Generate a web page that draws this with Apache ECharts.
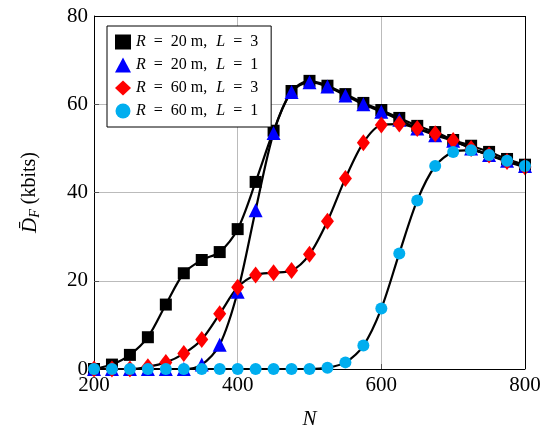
<!DOCTYPE html>
<html>
<head>
<meta charset="utf-8">
<script src="https://cdn.jsdelivr.net/npm/echarts@6/dist/echarts.min.js"></script>
<style>
  html, body { margin: 0; padding: 0; background: #fff; }
  #chart { width: 559px; height: 436px; }
</style>
</head>
<body>
<div id="chart"></div>
<script>
const nValues = [200, 225, 250, 275, 300, 325, 350, 375, 400, 425, 450, 475, 500,
  525, 550, 575, 600, 625, 650, 675, 700, 725, 750, 775, 800];

const r20l3 = [0, 1.0, 3.2, 7.2, 14.6, 21.7, 24.7, 26.5, 31.7, 42.4, 54, 63, 65.3,
  64.2, 62.3, 60.3, 58.7, 56.9, 55.1, 53.7, 51.9, 50.6, 49.2, 47.6, 46.3];
const r20l1 = [0, 0, 0, 0, 0, 0, 1.0, 5.5, 17.5, 36, 53.5, 62.8, 65,
  64, 62, 60, 58.3, 56.5, 54.5, 53, 51.7, 50, 48.5, 47.2, 46];
const r60l3 = [0, 0, 0, 0.5, 1.5, 3.5, 6.7, 12.5, 18.5, 21.3, 21.8, 22.3, 26,
  33.5, 43.2, 51.3, 55.3, 55.5, 54.5, 53.3, 51.8, 50, 48.5, 47, 45.8];
const r60l1 = [0, 0, 0, 0, 0, 0, 0, 0, 0, 0, 0, 0, 0,
  0.3, 1.5, 5.3, 13.7, 26.2, 38.2, 46, 49.2, 49.6, 48.5, 47.2, 46];

const legendNames = ['{i|R}{e|=}20 m,{e2| }{i|L}{e|=}3', '{i|R}{e|=}20 m,{e2| }{i|L}{e|=}1',
  '{i|R}{e|=}60 m,{e2| }{i|L}{e|=}3', '{i|R}{e|=}60 m,{e2| }{i|L}{e|=}1'];
const xTicks = [200, 400, 600, 800];
const yTicks = [0, 20, 40, 60, 80];

const serif = 'Liberation Serif';
const chart = echarts.init(document.getElementById('chart'));

const pair = (ys) => nValues.map((x, i) => [x, ys[i]]);

function makeSeries(name, ys, symbol, size, color) {
  return {
    name: name,
    type: 'line',
    data: pair(ys),
    smooth: 0.3,
    symbol: symbol,
    symbolSize: size,
    showAllSymbol: true,
    lineStyle: { color: '#000', width: 2.2 },
    itemStyle: { color: color, borderWidth: 0 },
    emphasis: { disabled: true },
    z: 2
  };
}

chart.setOption({
  animation: false,
  backgroundColor: '#fff',
  grid: { left: 94, right: 34, top: 16, bottom: 67 },
  legend: {
    orient: 'vertical',
    left: 107,
    top: 26,
    backgroundColor: '#fff',
    borderColor: '#000',
    borderWidth: 1,
    borderRadius: 0,
    padding: [8, 13, 8, 8],
    itemGap: 7,
    itemWidth: 16,
    itemHeight: 15,
    data: [
      { name: legendNames[0], icon: 'rect', itemStyle: { color: '#000' } },
      { name: legendNames[1], icon: 'triangle', itemStyle: { color: '#0000ff' } },
      { name: legendNames[2], icon: 'diamond', itemStyle: { color: '#ff0000' } },
      { name: legendNames[3], icon: 'circle', itemStyle: { color: '#00aeef' } }
    ],
    textStyle: {
      fontFamily: serif,
      fontSize: 16,
      color: '#000',
      rich: {
        i: { fontFamily: serif, fontStyle: 'italic', fontSize: 16 },
        e: { fontFamily: serif, fontSize: 16, padding: [0, 8, 0, 8] },
        e2: { fontFamily: serif, fontSize: 16, padding: [0, 5, 0, 0] }
      }
    }
  },
  xAxis: {
    type: 'value',
    min: 200,
    max: 800,
    interval: 200,
    name: 'N',
    nameLocation: 'middle',
    nameGap: 40,
    nameTextStyle: { fontFamily: serif, fontStyle: 'italic', fontSize: 21, color: '#000' },
    axisLine: { show: true, lineStyle: { color: '#000', width: 1 } },
    axisTick: { show: true, inside: true, length: 5, lineStyle: { color: '#555' } },
    axisLabel: {
      fontFamily: serif, fontSize: 21, color: '#000', margin: 6,
      formatter: (v) => xTicks.includes(v) ? String(v) : ''
    },
    splitLine: { show: true, lineStyle: { color: '#bbb', width: 1 } }
  },
  yAxis: {
    type: 'value',
    min: 0,
    max: 80,
    interval: 20,
    name: '{d|D\u0304}{s|F} (kbits)',
    nameLocation: 'middle',
    nameGap: 52,
    nameRotate: 90,
    nameTextStyle: {
      fontFamily: serif, fontSize: 20, color: '#000',
      rich: {
        d: { fontFamily: serif, fontStyle: 'italic', fontSize: 21 },
        s: { fontFamily: serif, fontStyle: 'italic', fontSize: 14, verticalAlign: 'bottom', padding: [10, 0, 0, 0] }
      }
    },
    axisLine: { show: true, lineStyle: { color: '#000', width: 1 } },
    axisTick: { show: true, inside: true, length: 5, lineStyle: { color: '#555' } },
    axisLabel: {
      fontFamily: serif, fontSize: 21, color: '#000', margin: 6,
      formatter: (v) => yTicks.includes(v) ? String(v) : ''
    },
    splitLine: { show: true, lineStyle: { color: '#bbb', width: 1 } }
  },
  series: [
    makeSeries(legendNames[0], r20l3, 'rect', 12, '#000'),
    makeSeries(legendNames[1], r20l1, 'triangle', 14, '#0000ff'),
    makeSeries(legendNames[2], r60l3, 'diamond', [13, 17], '#ff0000'),
    makeSeries(legendNames[3], r60l1, 'circle', 12, '#00aeef'),
    {
      type: 'line', data: [], silent: true,
      markLine: {
        silent: true, symbol: 'none', label: { show: false },
        lineStyle: { color: '#000', width: 1, type: 'solid' },
        data: [[{ coord: [200, 80] }, { coord: [800, 80] }], [{ coord: [800, 0] }, { coord: [800, 80] }]]
      }
    }
  ]
});
</script>
</body>
</html>
